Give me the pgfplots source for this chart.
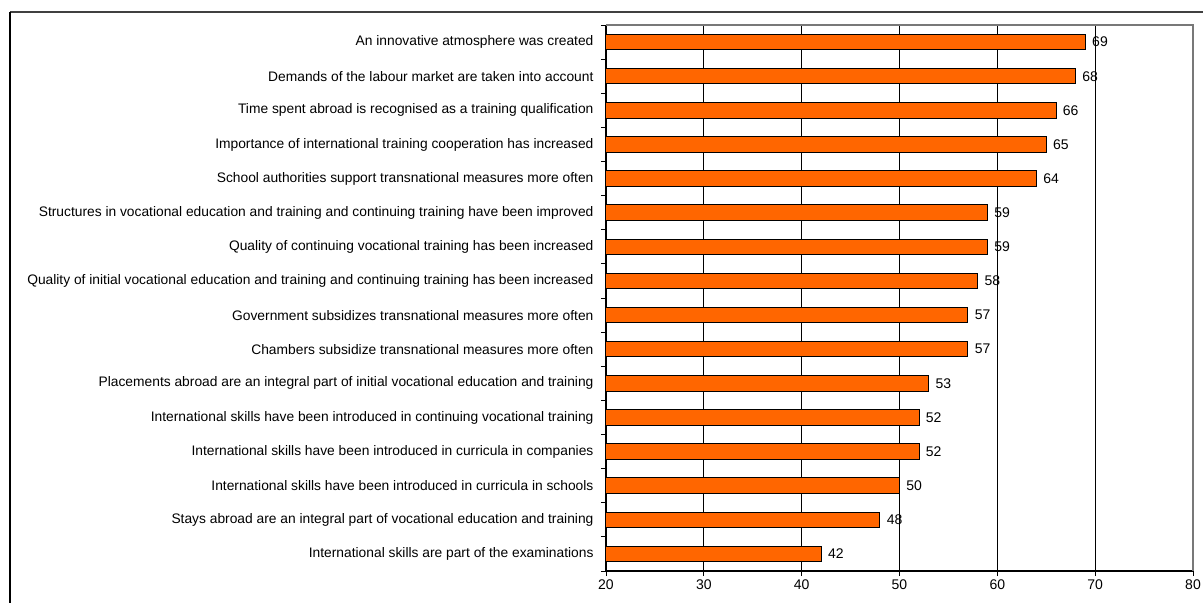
\documentclass[border=0pt]{standalone}
\usepackage{pgfplots}
\pgfplotsset{compat=1.18}
\usepackage{fontspec}
\setmainfont{Liberation Sans}
\definecolor{barorange}{RGB}{255,102,0}
\definecolor{framegray}{RGB}{120,120,120}
\begin{document}
\begin{tikzpicture}[x=1pt,y=1pt]
\useasboundingbox (0,0) rectangle (1203,603);
\draw[line width=2.4pt, color=black!75] (10,591) -- (1203,591);
\draw[line width=1.4pt] (10,591) -- (10,0);
\begin{axis}[
  at={(606pt,32pt)}, anchor=south west,
  scale only axis, width=587pt, height=546pt,
  xmin=20, xmax=80, ymin=0.5, ymax=16.5, y dir=reverse,
  axis lines=left, axis line style={-, line width=1.1pt, black},
  tick align=outside,
  xtick={20,30,...,80},
  major x tick style={black, line width=0.9pt},
  major tick length=5pt, minor tick length=5pt,
  xmajorgrids, grid style={black, line width=0.8pt},
  ytick={1,...,16},
  major y tick style={draw=none},
  minor ytick={0.5,1.5,...,16.5},
  minor y tick style={black, line width=0.9pt},
  yticklabels={
    {An innovative atmosphere was created},
    {Demands of the labour market are taken into account},
    {Time spent abroad is recognised as a training qualification},
    {Importance of international training cooperation has increased},
    {School authorities support transnational measures more often},
    {Structures in vocational education and training and continuing training have been improved},
    {Quality of continuing vocational training has been increased},
    {Quality of initial vocational education and training and continuing training has been increased},
    {Government subsidizes transnational measures more often},
    {Chambers subsidize transnational measures more often},
    {Placements abroad are an integral part of initial vocational education and training},
    {International skills have been introduced in continuing vocational training},
    {International skills have been introduced in curricula in companies},
    {International skills have been introduced in curricula in schools},
    {Stays abroad are an integral part of vocational education and training},
    {International skills are part of the examinations}},
  yticklabel style={font=\fontsize{13.8}{16}\selectfont, xshift=-4pt},
  xticklabel style={font=\fontsize{14}{16}\selectfont},
  /pgf/number format/assume math mode=true,
  xbar, bar width=15.6pt,
  nodes near coords,
  every node near coord/.append style={anchor=west, xshift=3pt, font=\fontsize{14}{16}\selectfont, black},
  clip=false,
]
\addplot[fill=barorange, draw=black, line width=1pt] coordinates {
  (69,1) (68,2) (66,3) (65,4) (64,5) (59,6) (59,7) (58,8)
  (57,9) (57,10) (53,11) (52,12) (52,13) (50,14) (48,15) (42,16)
};
\end{axis}
\draw[framegray, line width=1.6pt] (606,578) -- (1193,578) -- (1193,32);
\end{tikzpicture}
\end{document}
